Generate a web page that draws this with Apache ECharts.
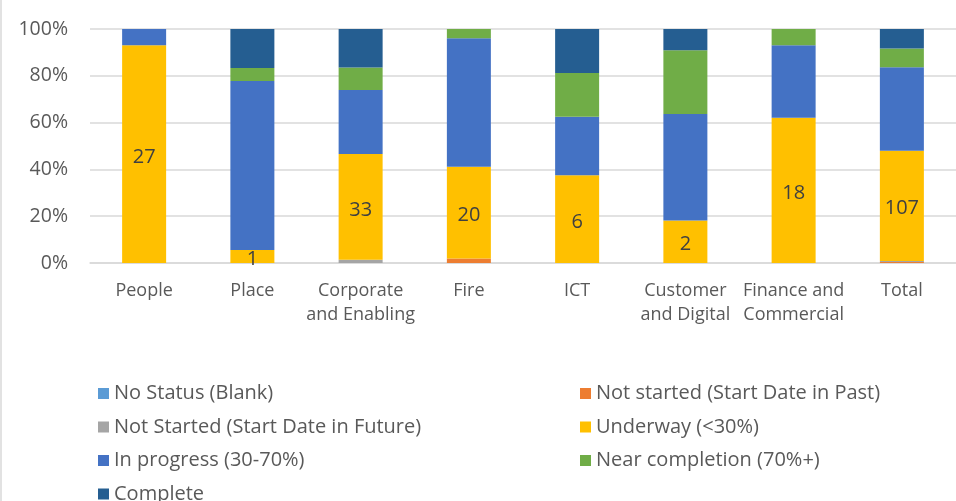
<!DOCTYPE html>
<html>
<head>
<meta charset="utf-8">
<script src="https://cdn.jsdelivr.net/npm/echarts@6/dist/echarts.min.js"></script>
<style>
html,body{margin:0;padding:0;background:#fff;}
#chart{position:absolute;left:0;top:0;width:956px;height:501px;}
#edge{position:absolute;left:0;top:0;width:2px;height:501px;background:#e2e2e2;z-index:5;}
</style>
</head>
<body>
<div id="chart"></div>
<div id="edge"></div>
<script>
// Categories
const categories = ['People', 'Place', 'Corporate\nand Enabling', 'Fire', 'ICT', 'Customer\nand Digital', 'Finance and\nCommercial', 'Total'];

// Series counts (number of items by status)
const noStatus        = [0, 0, 0, 0, 0, 0, 0, 0];
const notStartedPast  = [0, 0, 0, 1, 0, 0, 0, 1];
const notStartedFut   = [0, 0, 1, 0, 0, 0, 0, 1];
const underway        = [27, 1, 33, 20, 6, 2, 18, 107];
const inProgress      = [2, 13, 20, 28, 4, 5, 9, 81];
const nearCompletion  = [0, 1, 7, 2, 3, 3, 2, 18];
const complete        = [0, 3, 12, 0, 3, 1, 0, 19];

const seriesNames = ['No Status (Blank)', 'Not started (Start Date in Past)', 'Not Started (Start Date in Future)', 'Underway (<30%)', 'In progress (30-70%)', 'Near completion (70%+)', 'Complete'];
const seriesCounts = [noStatus, notStartedPast, notStartedFut, underway, inProgress, nearCompletion, complete];
const seriesColors = ['#5B9BD5', '#ED7D31', '#A5A5A5', '#FFC000', '#4472C4', '#70AD47', '#255E91'];

// Y tick labels
const yTicks = [0, 20, 40, 60, 80, 100];

const totals = categories.map((c, i) => seriesCounts.reduce((s, arr) => s + arr[i], 0));

const FONT = '"Open Sans", sans-serif';
const TXT = '#595959';

const series = seriesNames.map((name, si) => ({
  name: name,
  type: 'bar',
  stack: 'all',
  barWidth: 44,
  itemStyle: { color: seriesColors[si] },
  data: seriesCounts[si].map((v, i) => v / totals[i] * 100),
  label: si === 3 ? {
    show: true,
    position: 'inside',
    fontFamily: FONT,
    fontSize: 20,
    offset: [0, 3],
    color: '#404040',
    formatter: p => String(seriesCounts[3][p.dataIndex])
  } : { show: false }
}));

const legendCommon = {
  orient: 'vertical',
  top: 383,
  height: 125,
  padding: 0,
  icon: 'rect', itemWidth: 11, itemHeight: 11, itemGap: 12.5,
  textStyle: { color: TXT, fontFamily: FONT, fontSize: 20, lineHeight: 21 },
  selectedMode: false
};

const chart = echarts.init(document.getElementById('chart'), null, { renderer: 'canvas' });
chart.setOption({
  animation: false,
  backgroundColor: '#fff',
  grid: { left: 90, right: -4, top: 29, bottom: 238, containLabel: false },
  xAxis: {
    type: 'category',
    data: categories,
    axisLine: { show: true, lineStyle: { color: '#d9d9d9', width: 1.5 } },
    axisTick: { show: false },
    axisLabel: { color: TXT, fontFamily: FONT, fontSize: 18, lineHeight: 24, margin: 16, interval: 0 }
  },
  yAxis: {
    type: 'value',
    min: yTicks[0],
    max: yTicks[yTicks.length - 1],
    interval: 20,
    axisLine: { show: false },
    axisTick: { show: false },
    splitLine: { lineStyle: { color: '#d9d9d9', width: 1.5 } },
    axisLabel: { color: TXT, fontFamily: FONT, fontSize: 19.5, margin: 22, formatter: '{value}%' }
  },
  legend: [
    Object.assign({}, legendCommon, {
      left: 98,
      data: [seriesNames[0], seriesNames[2], seriesNames[4], seriesNames[6]]
    }),
    Object.assign({}, legendCommon, {
      left: 580,
      data: [seriesNames[1], seriesNames[3], seriesNames[5]]
    })
  ],
  series: series
});
</script>
</body>
</html>
